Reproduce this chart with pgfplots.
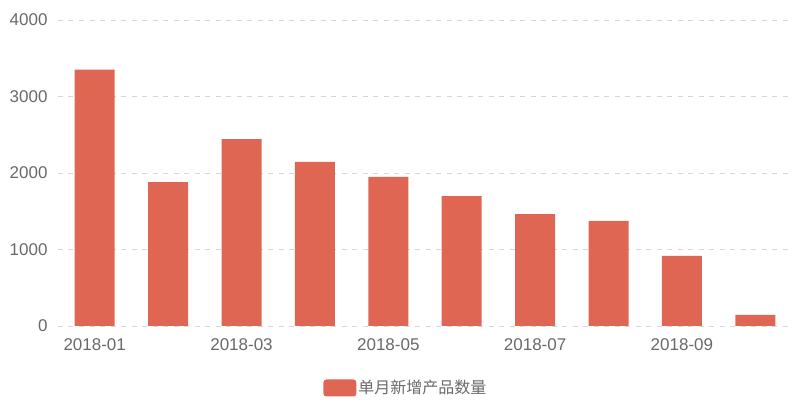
\documentclass[border=0pt]{standalone}
\usepackage{pgfplots}
\pgfplotsset{compat=1.18}
\usepackage{fontspec}
\setmainfont{Liberation Sans}
\newfontfamily\cjk{Noto Sans CJK SC}
\definecolor{barc}{RGB}{224,102,84}
\definecolor{txt}{RGB}{105,105,105}
\definecolor{gridc}{RGB}{215,215,215}
\begin{document}
\begin{tikzpicture}
\useasboundingbox (0,0) rectangle (800pt,417pt);
\begin{axis}[
  at={(58pt,91pt)}, anchor=south west,
  scale only axis, width=734pt, height=306pt,
  xmin=-0.5, xmax=9.5, ymin=0, ymax=4000,
  xtick={0,2,4,6,8},
  xticklabels={2018-01,2018-03,2018-05,2018-07,2018-09},
  ytick={0,1000,2000,3000,4000},
  /pgf/number format/assume math mode=true,
  /pgf/number format/1000 sep={},
  tick label style={font=\fontsize{17}{19}\selectfont, text=txt},
  yticklabel style={xshift=-7pt},
  xticklabel style={yshift=-9pt},
  major tick length=0pt,
  axis line style={draw=none},
  axis x line*=bottom,
  xmajorgrids=false, ymajorgrids=true,
  grid style={draw=gridc, line width=0.8pt, dash pattern=on 5pt off 5.5pt},
  legend style={at={(0.474,-0.2026)}, anchor=center, draw=none, fill=none,
    font=\cjk\fontsize{16}{18}\selectfont, text=txt},
  legend image code/.code={\fill[barc, rounded corners=3pt] (0pt,-8.5pt) rectangle (33pt,8.5pt);},
  legend cell align=left,
]
\addplot[ybar, bar width=40pt, fill=barc, draw=none] coordinates {
 (0,3350) (1,1882) (2,2444) (3,2144) (4,1948) (5,1699) (6,1464) (7,1373) (8,915) (9,144)
};
\addlegendentry{单月新增产品数量}
\draw[color={rgb,255:red,210;green,210;blue,210}, line width=0.8pt] (rel axis cs:0,0) -- (rel axis cs:1,0);
\end{axis}
\end{tikzpicture}
\end{document}
